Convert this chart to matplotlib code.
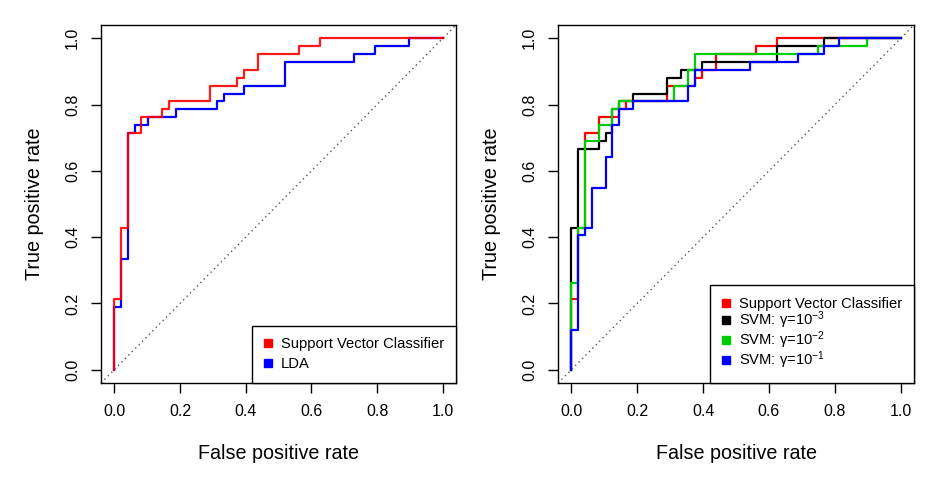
import matplotlib
matplotlib.use("Agg")
import matplotlib.pyplot as plt
from matplotlib.lines import Line2D

plt.rcParams["font.family"] = ["Liberation Sans", "DejaVu Sans"]
plt.rcParams["mathtext.default"] = "regular"

# ROC vertices (fpr, tpr), drawn as post-steps
svc_fpr = [0, 0, 0.021, 0.042, 0.083, 0.146, 0.167, 0.292, 0.375, 0.396, 0.438, 0.562, 0.625, 1.0]
svc_tpr = [0, 0.214, 0.429, 0.714, 0.762, 0.786, 0.810, 0.857, 0.881, 0.905, 0.952, 0.976, 1.0, 1.0]

lda_fpr = [0, 0, 0.021, 0.042, 0.062, 0.104, 0.188, 0.312, 0.333, 0.396, 0.521, 0.729, 0.792, 0.896, 1.0]
lda_tpr = [0, 0.190, 0.333, 0.714, 0.738, 0.762, 0.786, 0.810, 0.833, 0.857, 0.929, 0.952, 0.976, 1.0, 1.0]

svm3_fpr = [0, 0, 0.021, 0.083, 0.104, 0.125, 0.146, 0.188, 0.292, 0.333, 0.396, 0.625, 0.768, 1.0]
svm3_tpr = [0, 0.429, 0.667, 0.690, 0.714, 0.786, 0.810, 0.833, 0.881, 0.905, 0.929, 0.976, 1.0, 1.0]

svm2_fpr = [0, 0, 0.021, 0.042, 0.083, 0.125, 0.146, 0.312, 0.354, 0.375, 0.750, 0.896, 1.0]
svm2_tpr = [0, 0.262, 0.429, 0.690, 0.738, 0.786, 0.810, 0.857, 0.905, 0.952, 0.976, 1.0, 1.0]

svm1_fpr = [0, 0, 0.021, 0.042, 0.062, 0.104, 0.125, 0.146, 0.188, 0.354, 0.375, 0.542, 0.688, 0.768, 0.812, 1.0]
svm1_tpr = [0, 0.119, 0.405, 0.429, 0.548, 0.643, 0.738, 0.786, 0.810, 0.857, 0.905, 0.929, 0.952, 0.976, 1.0, 1.0]

ticks = [0.0, 0.2, 0.4, 0.6, 0.8, 1.0]
tick_labels = ["0.0", "0.2", "0.4", "0.6", "0.8", "1.0"]

GREEN = "#00CD00"
LW = 1.6


def style_axes(ax):
    ax.set_xlim(-0.04, 1.04)
    ax.set_ylim(-0.04, 1.04)
    ax.set_xticks(ticks)
    ax.set_xticklabels(tick_labels)
    ax.set_yticks(ticks)
    ax.set_yticklabels(tick_labels, rotation=90, va="center")
    ax.tick_params(direction="out", length=7, width=1, labelsize=11.5, pad=8)
    for s in ax.spines.values():
        s.set_linewidth(1)
    ax.axline((0, 0), (1, 1), color="#555555", linestyle=(0, (1, 2.5)), linewidth=1)
    ax.set_xlabel("False positive rate", fontsize=14.2, labelpad=18)
    ax.set_ylabel("True positive rate", fontsize=14.2, labelpad=15)


def square(color):
    return Line2D([], [], marker="s", linestyle="none", color=color, markersize=6)


LEG = dict(loc="lower right", borderaxespad=0, fancybox=False, edgecolor="black",
           framealpha=1, fontsize=10.6, handlelength=0.5, handletextpad=0.65,
           borderpad=0.8)

fig = plt.figure(figsize=(9.27, 4.8), dpi=100)
ax1 = fig.add_axes([0.109, 0.202, 0.383, 0.746])
ax2 = fig.add_axes([0.602, 0.202, 0.384, 0.746])

style_axes(ax1)
ax1.step(lda_fpr, lda_tpr, where="post", color="blue", linewidth=LW)
ax1.step(svc_fpr, svc_tpr, where="post", color="red", linewidth=LW, alpha=0.9)
ax1.legend([square("red"), square("blue")], ["Support Vector Classifier", "LDA"],
           labelspacing=0.4, **LEG)

style_axes(ax2)
ax2.step(svc_fpr, svc_tpr, where="post", color="red", linewidth=LW)
ax2.step(svm3_fpr, svm3_tpr, where="post", color="black", linewidth=LW)
ax2.step(svm2_fpr, svm2_tpr, where="post", color=GREEN, linewidth=LW)
ax2.step(svm1_fpr, svm1_tpr, where="post", color="blue", linewidth=LW)
ax2.legend([square("red"), square("black"), square(GREEN), square("blue")],
           ["Support Vector Classifier", r"SVM: $\gamma$=10$^{-3}$",
            r"SVM: $\gamma$=10$^{-2}$", r"SVM: $\gamma$=10$^{-1}$"],
           labelspacing=-0.1, **LEG)

fig.savefig("out.png", dpi=100)
